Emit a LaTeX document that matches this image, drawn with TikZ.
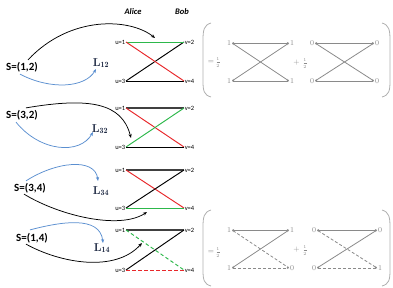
\documentclass[tikz,border=0pt]{standalone}
\usepackage{fontspec}
\newfontfamily\carl{Carlito}
\usetikzlibrary{arrows.meta}
\definecolor{grnc}{HTML}{2DB84B}
\definecolor{redc}{HTML}{E8282B}
\definecolor{bluec}{HTML}{5B8FD0}
\definecolor{navy}{HTML}{1F2A44}
\definecolor{gline}{HTML}{8A8A8A}
\definecolor{gbr}{HTML}{B0B0B0}
\begin{document}
\begin{tikzpicture}[x=1pt,y=-1pt,
  ulab/.style={font=\carl\fontsize{6.5}{7}\selectfont, inner sep=0.6pt},
  slab/.style={font=\carl\bfseries\fontsize{11}{12}\selectfont, inner sep=0pt},
  llab/.style={font=\bfseries\fontsize{11.5}{12}\selectfont, text=navy, inner sep=0pt},
  hlab/.style={font=\carl\bfseries\itshape\fontsize{8.5}{9}\selectfont, inner sep=0pt},
  edgeln/.style={line width=0.95pt},
  thk/.style={line width=1.6pt, draw=black!75},
  carrow/.style={-{Stealth[length=4pt,width=3.2pt]}, line width=0.75pt},
  barrow/.style={carrow, draw=bluec},
  gl/.style={draw=gline, line width=0.8pt, {Stealth[length=2.2pt,width=2pt]}-{Stealth[length=2.2pt,width=2pt]}},
  gdash/.style={gl, dash pattern=on 3pt off 2pt},
  gnum/.style={text=gline, font=\fontsize{7.5}{8}\selectfont, inner sep=0.8pt},
  fnum/.style={text=gline, font=\fontsize{4.5}{5}\selectfont, inner sep=0pt},
  gbrack/.style={draw=gbr, line width=0.8pt},
  dsh/.style={dash pattern=on 3.5pt off 2.5pt}
]
\useasboundingbox (0,0) rectangle (393,287);

\node[hlab] (alice) at (133,12) {Alice};
\node[hlab] (bob) at (182,12) {Bob};

\foreach \i/\t/\b in {1/42/81,2/108/147,3/170/208,4/230/270}{
  \node[ulab,anchor=east] (a\i) at (126,\t) {u=1};
  \node[ulab,anchor=west] (b\i) at (184,\t) {v=2};
  \node[ulab,anchor=east] (c\i) at (126,\b) {u=3};
  \node[ulab,anchor=west] (d\i) at (184,\b) {v=4};
}

% diagram 1
\draw[edgeln] (c1.east) -- (b1.west);
\draw[edgeln] (c1.east) -- (d1.west);
\draw[edgeln,draw=grnc] (a1.east) -- (b1.west);
\draw[edgeln,draw=redc] (a1.east) -- (d1.west);
% diagram 2
\draw[thk] (a2.east) -- (b2.west);
\draw[edgeln,draw=redc] (a2.east) -- (d2.west);
\draw[edgeln,draw=grnc] (c2.east) -- (b2.west);
\draw[edgeln] (c2.east) -- (d2.west);
% diagram 3
\draw[thk] (a3.east) -- (b3.west);
\draw[edgeln,draw=redc] (a3.east) -- (d3.west);
\draw[edgeln] (c3.east) -- (b3.west);
\draw[edgeln,draw=grnc] (c3.east) -- (d3.west);
% diagram 4
\draw[thk] (a4.east) -- (b4.west);
\draw[edgeln,draw=grnc,dsh] (a4.east) -- (d4.west);
\draw[edgeln] (c4.east) -- (b4.west);
\draw[edgeln,draw=redc,dsh] (c4.east) -- (d4.west);

% source labels
\node[slab] (s1) at (22,67) {S=(1,2)};
\node[slab] (s2) at (22,115) {S=(3,2)};
\node[slab] (s3) at (30,188) {S=(3,4)};
\node[slab] (s4) at (32,238) {S=(1,4)};

\node[llab] (l1) at (101,63) {L$_{\mathbf{12}}$};
\node[llab] (l2) at (100,129) {L$_{\mathbf{32}}$};
\node[llab] (l3) at (101,191) {L$_{\mathbf{34}}$};
\node[llab] (l4) at (102,248) {L$_{\mathbf{14}}$};

% arrow targets
\coordinate (t1) at (155,38);
\coordinate (t2) at (131,138);
\coordinate (t3) at (147,212);
\coordinate (t4) at (142,243);
\coordinate (q1) at (96,69);
\coordinate (q2) at (93,132);
\coordinate (q3) at (98,181);
\coordinate (q4) at (103,243);

\draw[carrow] (s1.north east) ++(-10,-2) .. controls (70,15) and (130,18) .. (t1);
\draw[barrow] (s1.south) ++(-2,2) .. controls (50,90) and (85,88) .. (q1);
\draw[carrow] (s2.north east) ++(-12,-2) .. controls (90,97) and (122,103) .. (t2);
\draw[barrow] (s2.south) ++(-6,2) .. controls (40,152) and (80,155) .. (q2);
\draw[barrow] (s3.north) ++(-4,-2) .. controls (55,162) and (95,157) .. (q3);
\draw[carrow] (s3.south) ++(-6,1) .. controls (60,216) and (120,230) .. (t3);
\draw[barrow] (s4.north) ++(-2,-3) .. controls (60,222) and (100,215) .. (q4);
\draw[carrow] (s4.south) ++(-6,1) .. controls (60,263) and (115,273) .. (t4);

% ---------- top gray box
\draw[gbrack] (211,23) .. controls (204,25) and (203,30) .. (203,40) -- (203,81) .. controls (203,91) and (204,95) .. (211,97);
\draw[gbrack] (382,23) .. controls (389,25) and (390,30) .. (390,40) -- (390,81) .. controls (390,91) and (389,95) .. (382,97);
\node[gnum] (eq1) at (211,62) {=};
\node[fnum] (eq1n) at (218,58.7) {1};
\node[fnum] (eq1d) at (218,66) {2};
\draw[draw=gline, line width=0.3pt] (216.5,62.3) -- (219.5,62.3);
\node[gnum] (pl1) at (296.5,63) {+};
\node[fnum] (pl1n) at (305,59.7) {1};
\node[fnum] (pl1d) at (305,67) {2};
\draw[draw=gline, line width=0.3pt] (303.5,63.3) -- (306.5,63.3);
\node[gnum,anchor=east] (p1) at (232,43) {1};
\node[gnum,anchor=west] (p2) at (289,43) {1};
\node[gnum,anchor=east] (p3) at (232,81) {1};
\node[gnum,anchor=west] (p4) at (289,81) {1};
\draw[gl] (p1.east) -- (p2.west);
\draw[gl] (p1.east) -- (p4.west);
\draw[gl] (p3.east) -- (p2.west);
\draw[gl] (p3.east) -- (p4.west);
\node[gnum,anchor=east] (r1) at (315,43) {0};
\node[gnum,anchor=west] (r2) at (374,43) {0};
\node[gnum,anchor=east] (r3) at (315,81) {0};
\node[gnum,anchor=west] (r4) at (374,81) {0};
\draw[gl] (r1.east) -- (r2.west);
\draw[gl] (r1.east) -- (r4.west);
\draw[gl] (r3.east) -- (r2.west);
\draw[gl] (r3.east) -- (r4.west);

% ---------- bottom gray box
\draw[gbrack] (211,210) .. controls (204,212) and (203,217) .. (203,227) -- (203,270) .. controls (203,280) and (204,284) .. (211,286);
\draw[gbrack] (382,210) .. controls (389,212) and (390,217) .. (390,227) -- (390,270) .. controls (390,280) and (389,284) .. (382,286);
\node[gnum] (eq2) at (211,252) {=};
\node[fnum] (eq2n) at (218,248.7) {1};
\node[fnum] (eq2d) at (218,256) {2};
\draw[draw=gline, line width=0.3pt] (216.5,252.3) -- (219.5,252.3);
\node[gnum] (pl2) at (296.5,250) {+};
\node[fnum] (pl2n) at (305,246.7) {1};
\node[fnum] (pl2d) at (305,254) {2};
\draw[draw=gline, line width=0.3pt] (303.5,250.3) -- (306.5,250.3);
\node[gnum,anchor=east] (m1) at (232,230) {1};
\node[gnum,anchor=west] (m2) at (289,230) {1};
\node[gnum,anchor=east] (m3) at (232,268) {1};
\node[gnum,anchor=west] (m4) at (289,268) {0};
\draw[gl] (m1.east) -- (m2.west);
\draw[gdash] (m1.east) -- (m4.west);
\draw[gl] (m3.east) -- (m2.west);
\draw[gdash] (m3.east) -- (m4.west);
\node[gnum,anchor=east] (n1) at (317,230) {0};
\node[gnum,anchor=west] (n2) at (377,230) {0};
\node[gnum,anchor=east] (n3) at (317,268) {0};
\node[gnum,anchor=west] (n4) at (377,268) {1};
\draw[gl] (n1.east) -- (n2.west);
\draw[gdash] (n1.east) -- (n4.west);
\draw[gl] (n3.east) -- (n2.west);
\draw[gdash] (n3.east) -- (n4.west);
\end{tikzpicture}
\end{document}
